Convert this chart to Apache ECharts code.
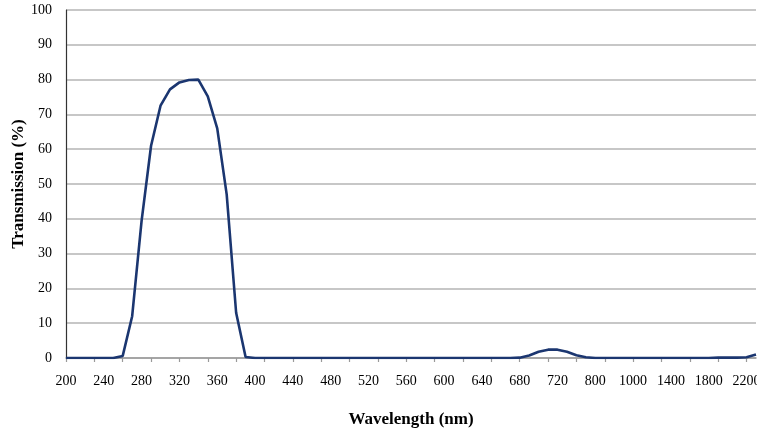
<!DOCTYPE html>
<html>
<head>
<meta charset="utf-8">
<script src="https://cdn.jsdelivr.net/npm/echarts@6/dist/echarts.min.js"></script>
<style>
html,body{margin:0;padding:0;background:#fff;}
#chart{width:757px;height:429px;}
</style>
</head>
<body>
<div id="chart"></div>
<script>
var wavelengths = [
  200,210,220,230,240,250,260,270,280,290,
  300,310,320,330,340,350,360,370,380,390,
  400,410,420,430,440,450,460,470,480,490,
  500,510,520,530,540,550,560,570,580,590,
  600,610,620,630,640,650,660,670,680,690,
  700,710,720,740,760,780,800,850,900,950,
  1000,1100,1200,1300,1400,1500,1600,1700,1800,1900,
  2000,2100,2200,2300
];
var transmission = [
  0,0,0,0,0,0,0.6,12,39.5,61,
  72.5,77.2,79.2,79.9,80,75.2,66,47,13,0.3,
  0,0,0,0,0,0,0,0,0,0,
  0,0,0,0,0,0,0,0,0,0,
  0,0,0,0,0,0,0,0,0.1,0.7,
  1.8,2.4,2.4,1.8,0.8,0.2,0,0,0,0,
  0,0,0,0,0,0,0,0,0,0.1,
  0.1,0.1,0.2,1.0
];
var yTicks = {min: 0, max: 100, interval: 10};

var chart = echarts.init(document.getElementById('chart'), null, {renderer: 'canvas'});
var serif = '"Liberation Serif", "Times New Roman", serif';
chart.setOption({
  animation: false,
  backgroundColor: '#ffffff',
  grid: {left: 66, right: 1, top: 10, bottom: 71, containLabel: false, outerBoundsMode: 'none'},
  xAxis: {
    type: 'category',
    data: wavelengths.map(String),
    boundaryGap: false,
    name: 'Wavelength (nm)',
    nameLocation: 'middle',
    nameGap: 53,
    nameMoveOverlap: false,
    nameTextStyle: {fontFamily: serif, fontWeight: 'bold', fontSize: 17, color: '#000'},
    axisLine: {lineStyle: {color: '#9a9a9a', width: 1.5}},
    axisTick: {show: true, interval: 2, length: 4, lineStyle: {color: '#9a9a9a', width: 1.2}},
    axisLabel: {interval: 3, fontFamily: serif, fontSize: 14, color: '#000', margin: 16},
    splitLine: {show: false}
  },
  yAxis: {
    type: 'value',
    min: yTicks.min, max: yTicks.max, interval: yTicks.interval,
    name: 'Transmission (%)',
    nameLocation: 'middle',
    nameGap: 39,
    nameMoveOverlap: false,
    nameRotate: 90,
    nameTextStyle: {fontFamily: serif, fontWeight: 'bold', fontSize: 17, color: '#000'},
    axisLine: {show: true, lineStyle: {color: '#333', width: 1.2}},
    axisTick: {show: false},
    axisLabel: {fontFamily: serif, fontSize: 14, color: '#000', margin: 14},
    splitLine: {show: true, lineStyle: {color: '#b4b4b4', width: 1.5}}
  },
  series: [{
    type: 'line',
    data: transmission,
    showSymbol: false,
    symbol: 'none',
    lineStyle: {color: '#1b3670', width: 2.6},
    itemStyle: {color: '#1b3670'}
  }]
});
</script>
</body>
</html>
